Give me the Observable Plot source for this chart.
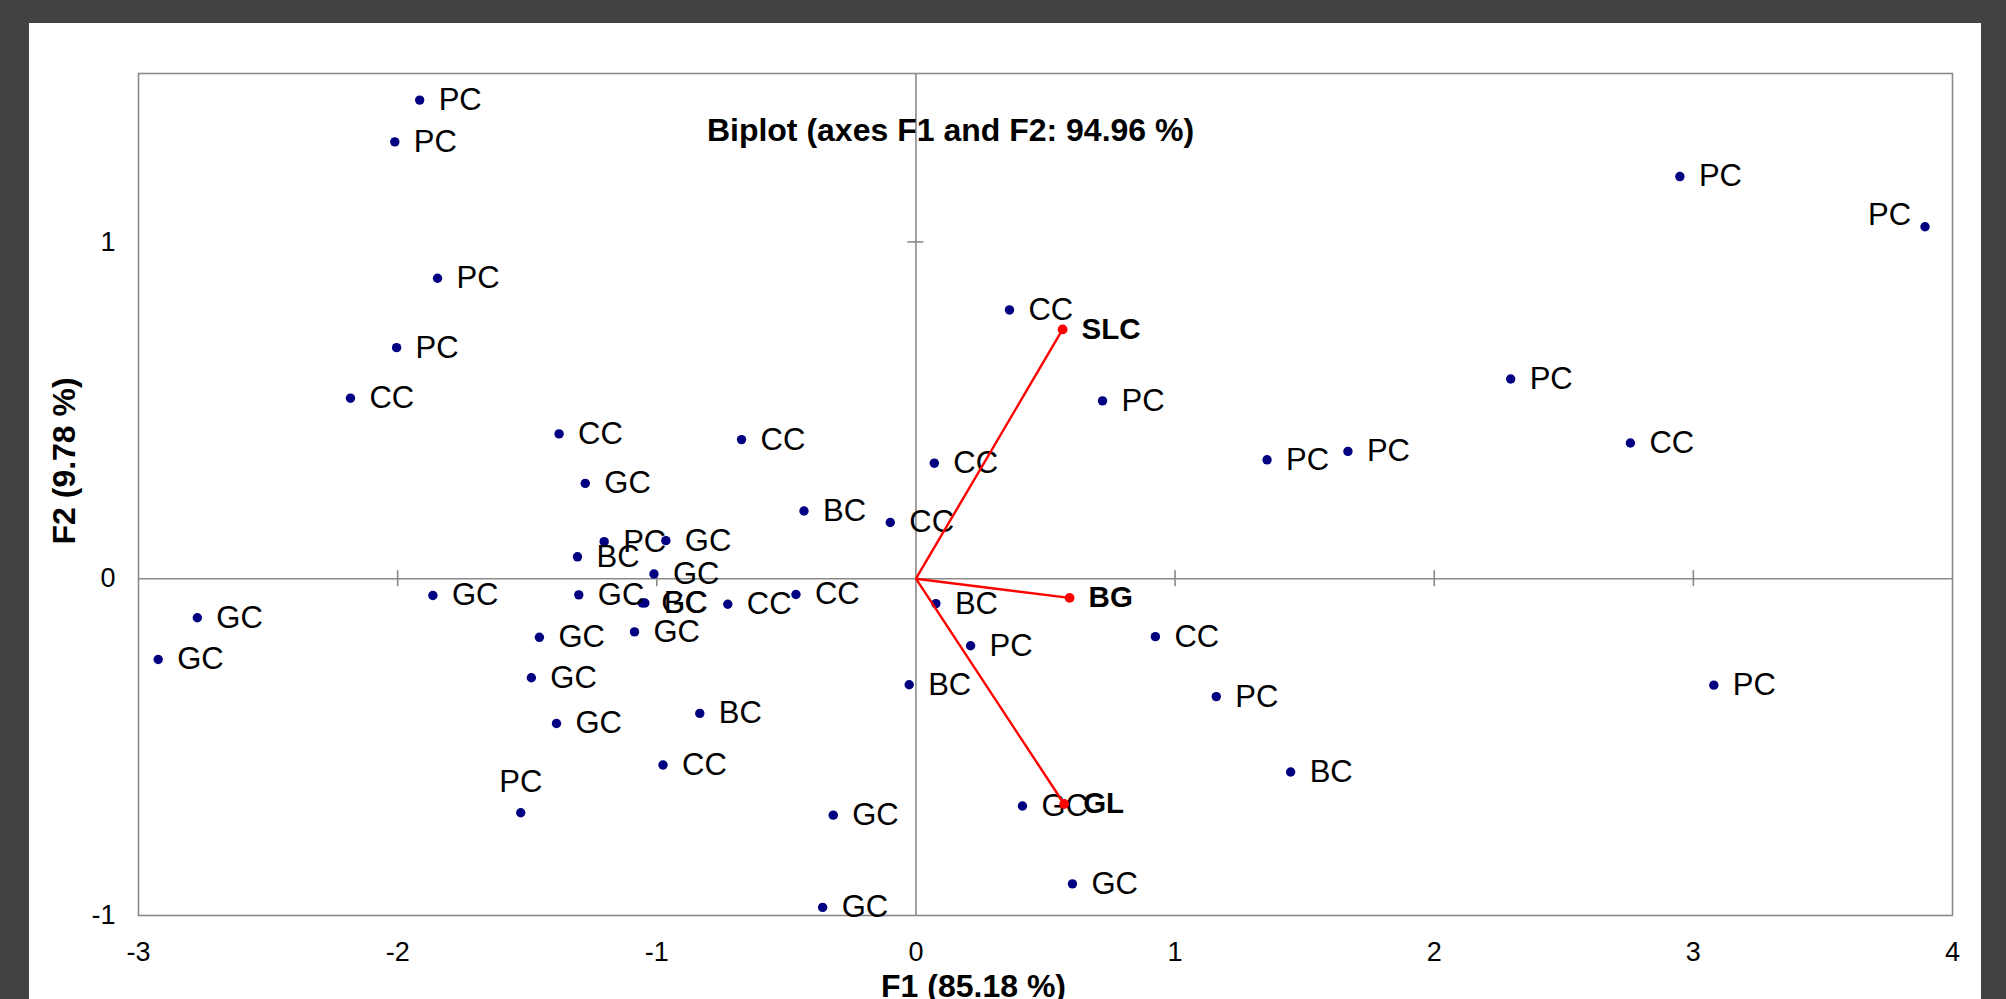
<!DOCTYPE html>
<html>
<head>
<meta charset="utf-8">
<script src="https://cdn.jsdelivr.net/npm/d3@7"></script>
<script src="https://cdn.jsdelivr.net/npm/@observablehq/plot@0.6"></script>
<style>
  html, body { margin: 0; padding: 0; background: #424242; width: 2006px; height: 999px; overflow: hidden; }
  #panel { position: absolute; left: 29px; top: 23px; width: 1952px; height: 976px; background: #ffffff; }
  #panel svg { display: block; }
</style>
</head>
<body>
<div id="panel"></div>
<script>
// ---- Observations (F1, F2 scores) ----
const obsLabel = ["PC","PC","PC","PC","CC","CC","GC","CC","BC","CC",
                  "CC","PC","CC","PC","PC","PC","CC","PC","PC","PC",
                  "GC","BC","GC","GC","GC","GC","BC","CC","CC","GC",
                  "GC","GC","GC","GC","GC","BC","CC","PC","GC","GC",
                  "BC","PC","BC","GC","GC","CC","PC","BC","PC"];
const obsX = [-1.915,-2.011,-1.846,-2.004,-2.182,-1.377,-1.276,-0.673,-0.432,-0.099,
               0.361, 0.720, 0.071, 2.295, 1.355, 1.667, 2.757, 2.948, 3.894,-1.203,
              -0.965,-1.306,-1.011,-1.864,-1.301,-1.056,-1.046,-0.726,-0.463,-2.773,
              -2.924,-1.453,-1.086,-1.484,-1.387,-0.834,-0.976,-1.525,-0.319,-0.360,
               0.077, 0.211,-0.026, 0.411, 0.604, 0.924, 1.159, 1.446, 3.079];
const obsY = [ 1.421, 1.297, 0.892, 0.686, 0.536, 0.430, 0.283, 0.413, 0.201, 0.167,
               0.798, 0.528, 0.343, 0.593, 0.353, 0.378, 0.403, 1.194, 1.045, 0.110,
               0.113, 0.065, 0.014,-0.050,-0.048,-0.072,-0.072,-0.076,-0.047,-0.116,
              -0.240,-0.174,-0.158,-0.294,-0.430,-0.400,-0.553,-0.695,-0.702,-0.976,
              -0.074,-0.199,-0.315,-0.675,-0.906,-0.172,-0.350,-0.574,-0.316];

// ---- Variables (loadings) ----
const varLabel = ["SLC","BG","GL"];
const varX = [0.566, 0.593, 0.572];
const varY = [0.740,-0.057,-0.669];

// ---- Axes ----
const xTickLabels = [-3,-2,-1,0,1,2,3,4];
const yTickLabels = [-1,0,1];
const xTickMarks = [-2,-1,1,2,3];
const yTickMarks = [1];
const titleText = "Biplot (axes F1 and F2: 94.96 %)";
const xTitle = "F1 (85.18 %)";
const yTitle = "F2 (9.78 %)";

// ---- Build ----
const obs = obsLabel.map((label, i) => ({label, x: obsX[i], y: obsY[i], i}));
const vars = varLabel.map((label, i) => ({label, x: varX[i], y: varY[i]}));
const leftLabelled = new Set([18]);   // label drawn on the left of its point
const aboveLabelled = new Set([37]);  // label drawn above its point
const rightObs = obs.filter(d => !leftLabelled.has(d.i) && !aboveLabelled.has(d.i));
const leftObs = obs.filter(d => leftLabelled.has(d.i));
const aboveObs = obs.filter(d => aboveLabelled.has(d.i));

const FONT = "'Liberation Sans', Arial, Helvetica, sans-serif";
const GRAY = "#8a8a8a";
const NAVY = "#000080";

const chart = Plot.plot({
  width: 1952,
  height: 976,
  marginLeft: 109,
  marginRight: 29,
  marginTop: 50,
  marginBottom: 84,
  style: {fontFamily: FONT, background: "white", color: "black", overflow: "visible"},
  x: {domain: [-3, 4], axis: null},
  y: {domain: [-1, 1.5], axis: null},
  marks: [
    Plot.ruleX([0], {stroke: GRAY, strokeWidth: 1.6}),
    Plot.ruleY([0], {stroke: GRAY, strokeWidth: 1.6}),
    Plot.ruleX(xTickMarks, {x: d => d, y1: 0, y2: 0, insetTop: -8, insetBottom: -8, stroke: GRAY, strokeWidth: 1.6}),
    Plot.ruleY(yTickMarks, {y: d => d, x1: 0, x2: 0, insetLeft: -8, insetRight: -8, stroke: GRAY, strokeWidth: 1.6}),
    Plot.frame({stroke: GRAY, strokeWidth: 1.6}),
    // tick labels
    Plot.text(xTickLabels, {x: d => d, frameAnchor: "bottom", text: d => String(d), dy: 37, lineAnchor: "middle", fontSize: 27, fill: "black"}),
    Plot.text(yTickLabels, {y: d => d, frameAnchor: "left", text: d => String(d), dx: -23, textAnchor: "end", lineAnchor: "middle", fontSize: 27, fill: "black"}),
    // axis titles + chart title
    Plot.text([xTitle], {frameAnchor: "bottom", dx: -72, dy: 71, lineAnchor: "middle", fontSize: 32, fontWeight: "bold", fill: "black"}),
    Plot.text([yTitle], {frameAnchor: "left", dx: -74, dy: 50, rotate: -90, lineAnchor: "middle", fontSize: 32, fontWeight: "bold", fill: "black"}),
    Plot.text([titleText], {frameAnchor: "top", dx: -95, dy: 57, lineAnchor: "middle", fontSize: 32, fontWeight: "bold", fill: "black"}),
    // observations
    Plot.dot(obs, {x: "x", y: "y", r: 4.7, fill: NAVY, stroke: "none"}),
    Plot.text(rightObs, {x: "x", y: "y", text: "label", dx: 19, textAnchor: "start", lineAnchor: "middle", fontSize: 31, fill: "black"}),
    Plot.text(leftObs, {x: "x", y: "y", text: "label", dx: -14, dy: -12, textAnchor: "end", lineAnchor: "middle", fontSize: 31, fill: "black"}),
    Plot.text(aboveObs, {x: "x", y: "y", text: "label", dy: -31, textAnchor: "middle", lineAnchor: "middle", fontSize: 31, fill: "black"}),
    // variables
    Plot.link(vars, {x1: () => 0, y1: () => 0, x2: "x", y2: "y", stroke: "#ff0000", strokeWidth: 2.4}),
    Plot.dot(vars, {x: "x", y: "y", r: 4.9, fill: "#ff0000", stroke: "none"}),
    Plot.text(vars, {x: "x", y: "y", text: "label", dx: 19, textAnchor: "start", lineAnchor: "middle", fontSize: 29.5, fontWeight: "bold", fill: "black"})
  ]
});
document.getElementById("panel").appendChild(chart);
</script>
</body>
</html>
